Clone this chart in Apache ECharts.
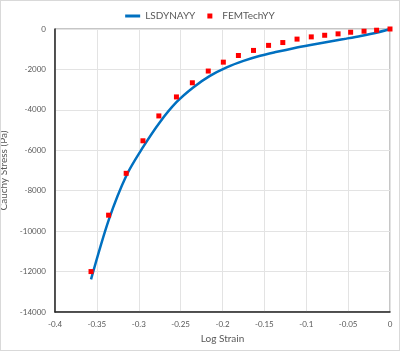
<!DOCTYPE html>
<html>
<head>
<meta charset="utf-8">
<script src="https://cdn.jsdelivr.net/npm/echarts@6/dist/echarts.min.js"></script>
<style>
    html, body { margin: 0; padding: 0; background: #fff; }
    #chart { width: 398px; height: 349px; border: 1px solid #d9d9d9; }
</style>
</head>
<body>
<div id="chart"></div>
<script>
// LS-DYNA 曲线
const lsStrain = [-0.357, -0.3357, -0.3143, -0.2949, -0.275, -0.255, -0.235, -0.215, -0.195, -0.175,
    -0.155, -0.135, -0.115, -0.095, -0.075, -0.055, -0.035, -0.015, 0];
const lsStress = [-12390, -9430, -7210, -5843, -4620, -3620, -2890, -2320, -1900, -1580,
    -1325, -1130, -950, -790, -640, -495, -345, -170, 0];

// FEMTech 点
const femStrain = [-0.357, -0.336, -0.315, -0.295, -0.276, -0.255, -0.236, -0.217, -0.199, -0.181,
    -0.163, -0.145, -0.128, -0.111, -0.094, -0.078, -0.062, -0.047, -0.031, -0.016, 0];
const femStress = [-12000, -9210, -7140, -5530, -4300, -3360, -2660, -2080, -1640, -1310,
    -1060, -810, -670, -500, -390, -310, -240, -160, -110, -60, 0];

const seriesNames = ['LSDYNAYY', 'FEMTechYY'];

const zip = (xs, ys) => xs.map((x, i) => [x, ys[i]]);

const chart = echarts.init(document.getElementById('chart'));

const FONT = 'Lato, "Open Sans", sans-serif';

const labelStyle = {
    color: '#595959',
    fontSize: 8,
    fontFamily: FONT
};

const option = {
    animation: false,
    textStyle: { fontFamily: FONT },
    legend: {
        top: 5,
        left: 'center',
        itemGap: 12,
        itemWidth: 15,
        itemHeight: 5,
        textStyle: { color: '#595959', fontSize: 10, fontFamily: FONT },
        data: [
            { name: seriesNames[0], icon: 'path://M0,1H15V4H0Z' },
            { name: seriesNames[1], icon: 'path://M0,0H5V5H0Z' }
        ]
    },
    grid: {
        left: 54,
        right: 9,
        top: 28,
        bottom: 38,
        outerBoundsMode: 'none',
        containLabel: false,
        show: true,
        borderColor: '#8c8c8c',
        borderWidth: 1
    },
    xAxis: {
        type: 'value',
        min: -0.4,
        max: 0,
        interval: 0.05,
        name: 'Log Strain',
        nameLocation: 'middle',
        nameGap: 22,
        nameTextStyle: { color: '#595959', fontSize: 10, fontFamily: FONT },
        axisLine: { show: true, onZero: false, lineStyle: { color: '#262626', width: 1.5 } },
        axisTick: { show: false },
        axisLabel: Object.assign({ margin: 8, formatter: v => String(Math.round(v * 100) / 100) }, labelStyle),
        splitLine: { show: true, lineStyle: { color: '#e3e3e3', width: 1 } }
    },
    yAxis: {
        type: 'value',
        min: -14000,
        max: 0,
        interval: 2000,
        name: 'Cauchy Stress (Pa)',
        nameLocation: 'middle',
        nameGap: 31,
        nameTextStyle: { color: '#595959', fontSize: 10, fontFamily: FONT },
        axisLine: { show: true, onZero: false, lineStyle: { color: '#262626', width: 1.5 } },
        axisTick: { show: false },
        axisLabel: Object.assign({ margin: 9, formatter: v => String(v) }, labelStyle),
        splitLine: { show: true, lineStyle: { color: '#e3e3e3', width: 1 } }
    },
    series: [
        {
            name: seriesNames[0],
            type: 'line',
            smooth: 0.3,
            showSymbol: false,
            symbol: 'none',
            data: zip(lsStrain, lsStress),
            itemStyle: { color: '#0070c0' },
            lineStyle: { color: '#0070c0', width: 2.5 },
            z: 2
        },
        {
            name: seriesNames[1],
            type: 'scatter',
            symbol: 'rect',
            symbolSize: 5,
            data: zip(femStrain, femStress),
            itemStyle: { color: '#ff0000', opacity: 1 },
            z: 3
        }
    ]
};

chart.setOption(option);
</script>
</body>
</html>
